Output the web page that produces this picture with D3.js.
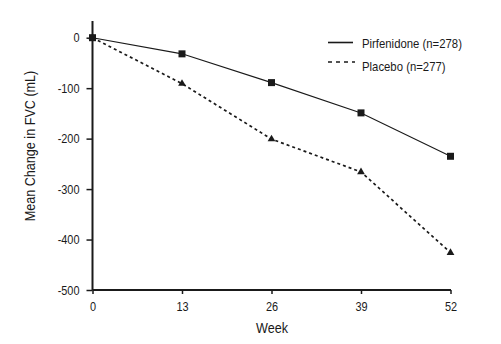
<!DOCTYPE html>
<html><head><meta charset="utf-8">
<script src="https://cdn.jsdelivr.net/npm/d3@7"></script>
<style>
body{margin:0;background:#fff;}
text{font-family:"Liberation Sans Narrow","Arial Narrow","Liberation Sans",Arial,sans-serif;fill:#1a1a1a;}
</style></head><body>
<svg id="c" width="501" height="344"></svg>
<script>
const weeks = [0, 13, 26, 39, 52];
const pirfenidone = [0, -32, -89, -149, -235];
const placebo = [0, -91, -201, -266, -426];
const yTicks = [0, -100, -200, -300, -400, -500];
const seriesNames = ["Pirfenidone (n=278)", "Placebo (n=277)"];

const svg = d3.select("#c");
const x = d3.scaleLinear().domain([0, 52]).range([92.5, 450.5]);
const y = d3.scaleLinear().domain([0, -500]).range([37.7, 290]);
const ink = "#1a1a1a";
const fontStack = '"Liberation Sans Narrow","Arial Narrow","Liberation Sans",Arial,sans-serif';

// axes
const yAxis = d3.axisLeft(y).tickValues(yTicks).tickSize(6).tickPadding(7).tickFormat(d => String(d));
const gy = svg.append("g").attr("transform", "translate(92.5,0)").call(yAxis);
gy.select(".domain").remove();
gy.append("line").attr("x1",0).attr("x2",0).attr("y1",21).attr("y2",290).attr("stroke",ink).attr("stroke-width",2);
gy.selectAll(".tick line").attr("stroke",ink).attr("stroke-width",1.5);
gy.selectAll(".tick text").attr("font-size","13px").style("font-family",fontStack).attr("fill",ink);

const xAxis = d3.axisBottom(x).tickValues(weeks).tickSize(4).tickPadding(8).tickFormat(d => String(d));
const gx = svg.append("g").attr("transform", "translate(0,290)").call(xAxis);
gx.select(".domain").remove();
gx.append("line").attr("x1",92.5).attr("x2",451).attr("y1",0).attr("y2",0).attr("stroke",ink).attr("stroke-width",2);
gx.selectAll(".tick line").attr("stroke",ink).attr("stroke-width",1.5);
gx.selectAll(".tick text").attr("font-size","13px").style("font-family",fontStack).attr("fill",ink);

// axis titles
svg.append("text").attr("x", 272).attr("y", 333).attr("text-anchor","middle").attr("font-size","15px").text("Week");
svg.append("text").attr("transform","translate(34.5,146) rotate(-90)").attr("text-anchor","middle").attr("font-size","15px").text("Mean Change in FVC (mL)");

const line = d3.line().x((d,i)=>x(weeks[i])).y(d=>y(d));

// placebo (dashed)
svg.append("path").datum(placebo).attr("d", line).attr("fill","none").attr("stroke",ink).attr("stroke-width",1.7).attr("stroke-dasharray","3,3");
// pirfenidone (solid)
svg.append("path").datum(pirfenidone).attr("d", line).attr("fill","none").attr("stroke",ink).attr("stroke-width",1.1);

// markers
svg.selectAll(".tri").data(placebo).enter().append("path")
  .attr("d", d3.symbol().type(d3.symbolTriangle).size(26))
  .attr("transform",(d,i)=>`translate(${x(weeks[i])},${y(d)})`).attr("fill",ink);
svg.selectAll(".sq").data(pirfenidone).enter().append("rect")
  .attr("x",(d,i)=>x(weeks[i])-3.5).attr("y",d=>y(d)-3.5).attr("width",7).attr("height",7).attr("fill",ink);

// legend
const lg = svg.append("g");
lg.append("line").attr("x1",328).attr("x2",353).attr("y1",42.5).attr("y2",42.5).attr("stroke",ink).attr("stroke-width",1.6);
lg.append("line").attr("x1",328).attr("x2",355).attr("y1",62).attr("y2",62).attr("stroke",ink).attr("stroke-width",1.6).attr("stroke-dasharray","4,4");
lg.append("text").attr("x",362).attr("y",47.5).attr("font-size","13.5px").text(seriesNames[0]);
lg.append("text").attr("x",362).attr("y",71).attr("font-size","13.5px").text(seriesNames[1]);

// condense text to mimic a narrow sans face
svg.selectAll("text").each(function(){
  const len = this.getComputedTextLength();
  if (len > 0) d3.select(this).attr("textLength", len * 0.84).attr("lengthAdjust", "spacingAndGlyphs");
});
</script>
</body></html>
